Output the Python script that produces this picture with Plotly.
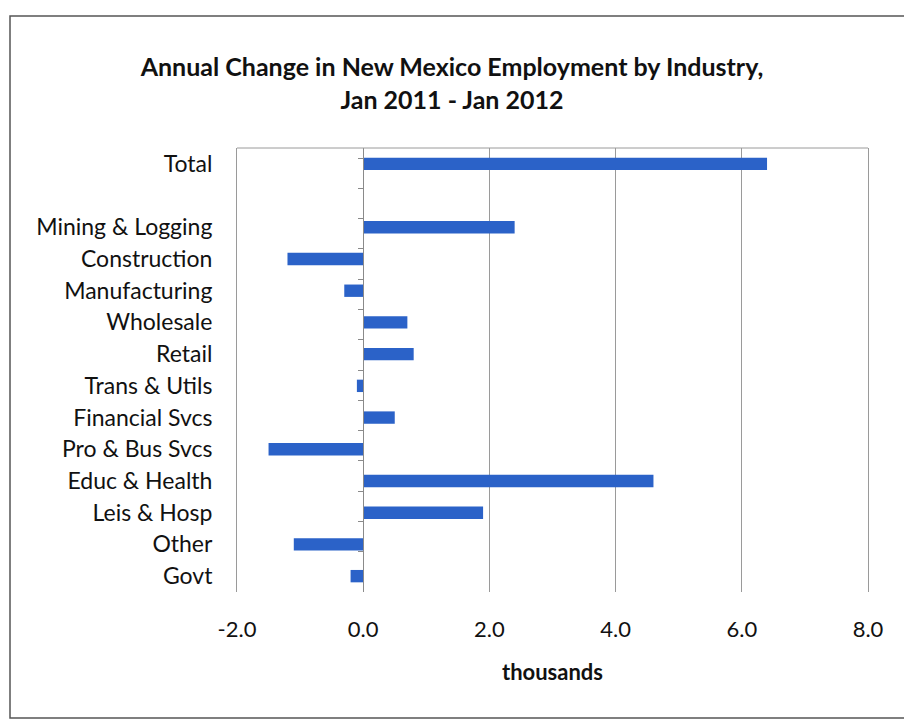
import plotly.graph_objects as go

categories = ["Total", " ", "Mining & Logging", "Construction", "Manufacturing",
              "Wholesale", "Retail", "Trans & Utils", "Financial Svcs",
              "Pro & Bus Svcs", "Educ & Health", "Leis & Hosp", "Other", "Govt"]
values = [6.4, None, 2.4, -1.2, -0.3, 0.7, 0.8, -0.1, 0.5, -1.5, 4.6, 1.9, -1.1, -0.2]
x_ticks = [-2, 0, 2, 4, 6, 8]
x_tick_labels = ["-2.0", "0.0", "2.0", "4.0", "6.0", "8.0"]

FONT = "Lato"
BAR = "#2B62C8"
TXT = "#111111"
GRID = "#9a9a9a"

fig = go.Figure()
fig.add_trace(go.Bar(x=values, y=categories, orientation="h",
                     marker=dict(color=BAR, line=dict(width=0)),
                     width=0.39, showlegend=False, hoverinfo="x+y"))
# invisible trace to drive the axis drawn at x = 0
fig.add_trace(go.Scatter(x=values, y=categories, yaxis="y2", mode="markers",
                         marker=dict(size=0.1, opacity=0), showlegend=False,
                         hoverinfo="skip"))

fig.update_layout(
    width=904, height=724,
    paper_bgcolor="white", plot_bgcolor="white",
    margin=dict(l=237, r=36, t=148, b=132),
    font=dict(family=FONT, color=TXT),
    title=dict(text="<b>Annual Change in New Mexico Employment by Industry,<br>Jan 2011 - Jan 2012</b>",
               x=0.5, xref="container", xanchor="center",
               y=1 - 76 / 724, yanchor="middle", yref="container",
               font=dict(size=25, family=FONT, color=TXT)),
    xaxis=dict(range=[-2, 8], tickvals=x_ticks, ticktext=x_tick_labels,
               showgrid=True, gridcolor=GRID, gridwidth=1,
               zeroline=True, zerolinecolor=GRID, zerolinewidth=1,
               showline=False, ticks="", ticklabelstandoff=22,
               tickfont=dict(size=22, family=FONT, color=TXT),
               title=dict(text="<b>thousands</b>", standoff=23,
                          font=dict(size=22, family=FONT, color=TXT))),
    yaxis=dict(type="category", categoryorder="array", categoryarray=categories,
               autorange="reversed", showgrid=False, zeroline=False,
               showline=True, mirror=True, linecolor=GRID, linewidth=1,
               ticks="", ticklabelstandoff=19,
               tickfont=dict(size=23, family=FONT, color=TXT)),
    yaxis2=dict(type="category", categoryorder="array", categoryarray=categories,
                autorange="reversed", overlaying="y", anchor="free",
                position=0.2, side="left", showgrid=False, zeroline=False,
                showline=True, linecolor="#8a8a8a", linewidth=1,
                ticks="outside", tickson="boundaries", ticklen=5,
                tickcolor="#8a8a8a", showticklabels=False),
    shapes=[
        dict(type="line", xref="paper", yref="paper", x0=0, x1=1, y0=1, y1=1,
             line=dict(color=GRID, width=1)),
        dict(type="rect", xref="paper", yref="paper",
             x0=(10 - 237) / 631, x1=(912 - 237) / 631,
             y0=(592 - 718) / 444, y1=(592 - 16) / 444,
             line=dict(color="#555555", width=1.5)),
    ],
)

fig.write_html("out.html")
